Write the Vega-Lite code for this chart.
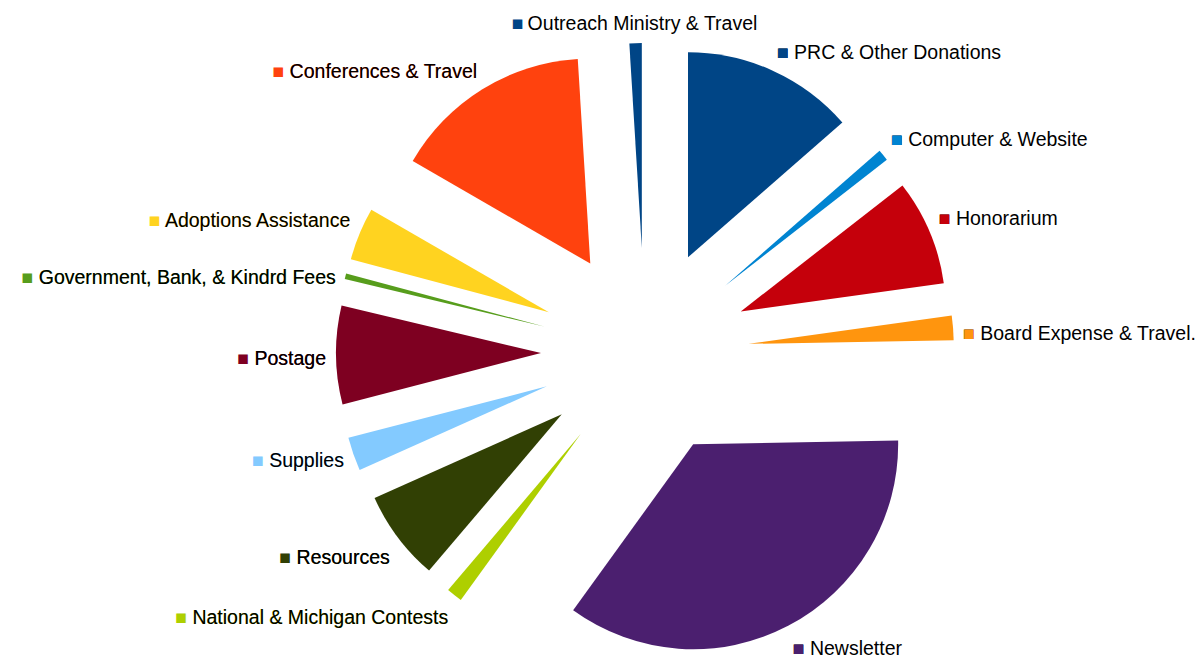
{
  "$schema": "https://vega.github.io/schema/vega-lite/v6.json",
  "width": 1199,
  "height": 658,
  "padding": 0,
  "autosize": {"type": "none"},
  "background": "white",
  "config": {"view": {"stroke": null}},
  "data": {
    "values": [
      {"order": 1, "category": "Outreach Ministry & Travel", "value": 0.97},
      {"order": 2, "category": "Conferences & Travel", "value": 15.69},
      {"order": 3, "category": "Adoptions Assistance", "value": 4.17},
      {"order": 4, "category": "Government, Bank, & Kindrd Fees", "value": 0.44},
      {"order": 5, "category": "Postage", "value": 7.75},
      {"order": 6, "category": "Supplies", "value": 2.64},
      {"order": 7, "category": "Resources", "value": 7.11},
      {"order": 8, "category": "National & Michigan Contests", "value": 1.25},
      {"order": 9, "category": "Newsletter", "value": 35.22},
      {"order": 10, "category": "Board Expense & Travel.", "value": 1.92},
      {"order": 11, "category": "Honorarium", "value": 8.33},
      {"order": 12, "category": "Computer & Website", "value": 0.89},
      {"order": 13, "category": "PRC & Other Donations", "value": 13.56}
    ]
  },
  "transform": [
    {"window": [{"op": "sum", "field": "value", "as": "cum"}], "sort": [{"field": "order"}], "frame": [null, 0]},
    {"joinaggregate": [{"op": "sum", "field": "value", "as": "total"}]},
    {"calculate": "360 - datum.cum / datum.total * 360", "as": "t0"},
    {"calculate": "360 - (datum.cum - datum.value) / datum.total * 360", "as": "t1"},
    {"calculate": "(datum.t0 + datum.t1) / 2 * PI / 180", "as": "mid"},
    {"calculate": "sin(datum.mid)", "as": "ex"},
    {"calculate": "-cos(datum.mid)", "as": "ey"},
    {"calculate": "sin(datum.mid) * 3.067", "as": "lx"},
    {"calculate": "-cos(datum.mid) * 3.067 + (cos(datum.mid) > 0.3 ? -0.085 : (cos(datum.mid) < -0.5 ? 0.14 : (sin(datum.mid) > 0 ? 0.07 : 0.035)))", "as": "ly"},
    {"calculate": "abs(sin(datum.mid)) < 0.2 ? 'center' : (sin(datum.mid) > 0 ? 'left' : 'right')", "as": "ha"},
    {"calculate": "'■ ' + datum.category", "as": "full"}
  ],
  "encoding": {
    "x": {"field": "lx", "type": "quantitative", "axis": null, "scale": {"domain": [-1, 1], "range": [541, 749], "nice": false, "zero": false}},
    "y": {"field": "ly", "type": "quantitative", "axis": null, "scale": {"domain": [-1, 1], "range": [248, 456], "nice": false, "zero": false}},
    "color": {
      "field": "category",
      "type": "nominal",
      "legend": null,
      "scale": {
        "domain": ["Outreach Ministry & Travel", "Conferences & Travel", "Adoptions Assistance", "Government, Bank, & Kindrd Fees", "Postage", "Supplies", "Resources", "National & Michigan Contests", "Newsletter", "Board Expense & Travel.", "Honorarium", "Computer & Website", "PRC & Other Donations"],
        "range": ["#004586", "#ff420e", "#ffd320", "#579d1c", "#7e0021", "#83caff", "#314004", "#aecf00", "#4b1f6f", "#ff950e", "#c5000b", "#0084d1", "#004586"]
      }
    }
  },
  "layer": [
    {
      "mark": {"type": "arc", "radius": 205},
      "encoding": {
        "theta": {"field": "t0", "type": "quantitative", "stack": null, "scale": {"domain": [0, 360], "range": [0, 6.283185307179586]}},
        "theta2": {"field": "t1"},
        "x": {"field": "ex", "type": "quantitative", "axis": null, "scale": {"domain": [-1, 1], "range": [541, 749], "nice": false, "zero": false}},
        "y": {"field": "ey", "type": "quantitative", "axis": null, "scale": {"domain": [-1, 1], "range": [248, 456], "nice": false, "zero": false}}
      }
    },
    {
      "transform": [{"filter": "datum.ha == 'left'"}],
      "mark": {"type": "text", "align": "left", "baseline": "middle", "font": "Liberation Sans", "fontSize": 19.5},
      "encoding": {
        "text": {"field": "full"},
        "color": {"value": "#000000"}
      }
    },
    {
      "transform": [{"filter": "datum.ha == 'left'"}],
      "mark": {"type": "text", "align": "left", "baseline": "middle", "font": "Liberation Sans", "fontSize": 19.5},
      "encoding": {
        "text": {"value": "■"}
      }
    },
    {
      "transform": [{"filter": "datum.ha == 'right'"}],
      "mark": {"type": "text", "align": "right", "baseline": "middle", "font": "Liberation Sans", "fontSize": 19.5},
      "encoding": {
        "text": {"field": "full"}
      }
    },
    {
      "transform": [{"filter": "datum.ha == 'right'"}],
      "mark": {"type": "text", "align": "right", "baseline": "middle", "font": "Liberation Sans", "fontSize": 19.5},
      "encoding": {
        "text": {"field": "category"},
        "color": {"value": "#000000"}
      }
    },
    {
      "transform": [{"filter": "datum.ha == 'center'"}],
      "mark": {"type": "text", "align": "center", "baseline": "middle", "font": "Liberation Sans", "fontSize": 19.5},
      "encoding": {
        "text": {"field": "full"}
      }
    },
    {
      "transform": [{"filter": "datum.ha == 'center'"}],
      "mark": {"type": "text", "align": "center", "baseline": "middle", "font": "Liberation Sans", "fontSize": 19.5, "dx": 7.2, "stroke": "white", "strokeWidth": 4},
      "encoding": {
        "text": {"field": "category"},
        "color": {"value": "#000000"}
      }
    },
    {
      "transform": [{"filter": "datum.ha == 'center'"}],
      "mark": {"type": "text", "align": "center", "baseline": "middle", "font": "Liberation Sans", "fontSize": 19.5, "dx": 7.2},
      "encoding": {
        "text": {"field": "category"},
        "color": {"value": "#000000"}
      }
    }
  ]
}
